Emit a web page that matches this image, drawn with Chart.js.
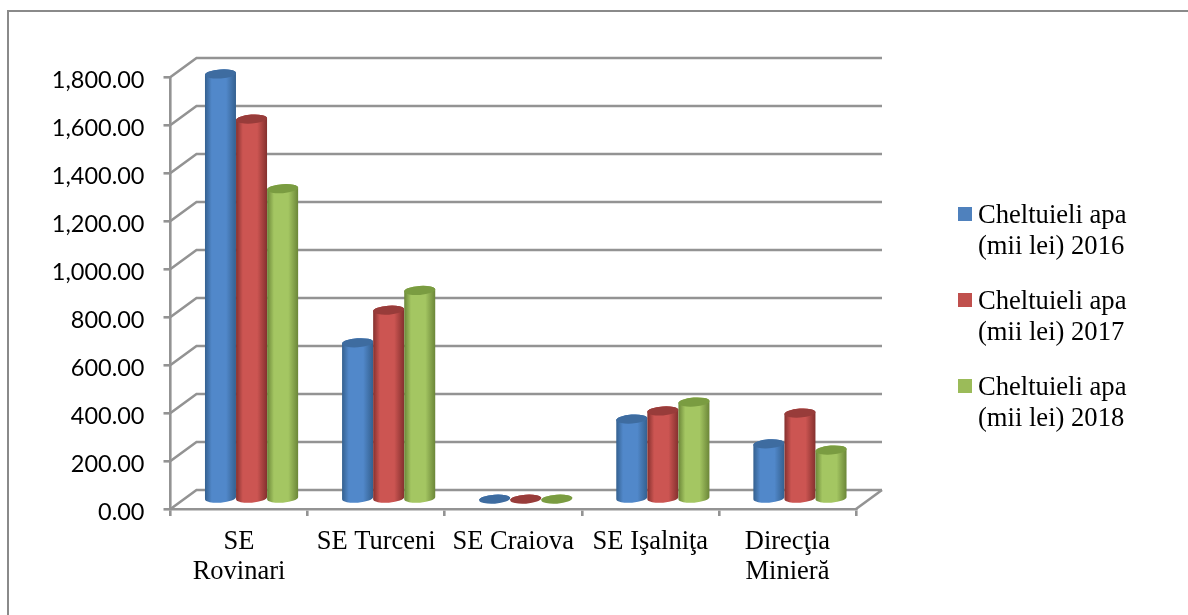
<!DOCTYPE html>
<html>
<head>
<meta charset="utf-8">
<title>Cheltuieli apa</title>
<script src="https://cdn.jsdelivr.net/npm/chart.js@4"></script>
<style>
  html, body { margin: 0; padding: 0; background: #fff; overflow: hidden; }
  canvas { display: block; }
</style>
</head>
<body>
<canvas id="myChart" width="1188" height="615"></canvas>
<script>
const categories = [["SE", "Rovinari"], "SE Turceni", "SE Craiova", "SE Işalniţa", ["Direcţia", "Minieră"]];
const yTicks = [0, 200, 400, 600, 800, 1000, 1200, 1400, 1600, 1800];

const legendFirstLine = "Cheltuieli apa";
const legendSecondLines = ["(mii lei) 2016", "(mii lei) 2017", "(mii lei) 2018"];

const values2016 = [1773, 653, 1.5, 335, 232];
const values2017 = [1585, 789, 1.5, 369, 360];
const values2018 = [1295, 871, 1.5, 406, 206];

const flatColors = ["#4f81bd", "#c0504d", "#9bbb59"];
const edgeColors = ["#34608f", "#84302e", "#6b8638"];
const midColors = ["#5188ca", "#cc5552", "#a4c662"];
const topColors = ["#3e6ca0", "#983c3a", "#7a9c41"];

const gridColor = "#939393";
const depthX = 26, depthY = -19;    // depth of the floor / side walls
const barDX = 12.5, barDY = -9.5;   // bars stand in the middle of the floor

// back wall lines, the slanted ones and the right edge of the floor
const wallsPlugin = {
  id: "walls",
  afterLayout(chart) {
    // the tick labels sit a little under their tick marks in the original
    const s = chart.scales.y, draw = s.drawLabels;
    s.drawLabels = function (a) {
      chart.ctx.save();
      chart.ctx.translate(0, 3.5);
      draw.call(this, a);
      chart.ctx.restore();
    };
  },
  beforeDatasetsDraw(chart) {
    const ctx = chart.ctx, y = chart.scales.y, area = chart.chartArea;
    ctx.save();
    ctx.strokeStyle = gridColor;
    ctx.lineWidth = 2.6;
    yTicks.forEach((t) => {
      const py = y.getPixelForValue(t);
      ctx.beginPath();
      ctx.moveTo(area.left, py);
      ctx.lineTo(area.left + depthX, py + depthY);
      ctx.lineTo(area.right + depthX, py + depthY);
      ctx.stroke();
    });
    const py0 = y.getPixelForValue(0);
    ctx.beginPath();
    ctx.moveTo(area.right, py0);
    ctx.lineTo(area.right + depthX, py0 + depthY);
    ctx.stroke();
    ctx.restore();
  }
};

// the cylinders, drawn from the bar elements that the library laid out
const cylinderPlugin = {
  id: "cylinders",
  beforeDatasetDraw() {
    return false;
  },
  afterDatasetsDraw(chart) {
    const ctx = chart.ctx;
    const tilt = -0.07;
    chart.data.datasets.forEach((ds, i) => {
      chart.getDatasetMeta(i).data.forEach((bar) => {
        const cx = bar.x + barDX;
        const rx = bar.width / 2;
        const ry = 4.5;
        const top = bar.y + barDY;
        const base = bar.base + barDY;

        const grad = ctx.createLinearGradient(cx - rx, 0, cx + rx, 0);
        grad.addColorStop(0, edgeColors[i]);
        grad.addColorStop(0.22, midColors[i]);
        grad.addColorStop(0.68, midColors[i]);
        grad.addColorStop(1, edgeColors[i]);

        ctx.beginPath();
        ctx.ellipse(cx, base, rx, ry, tilt, Math.PI, 0, true);
        ctx.ellipse(cx, top, rx, ry, tilt, 0, Math.PI, true);
        ctx.closePath();
        ctx.fillStyle = grad;
        ctx.fill();

        ctx.beginPath();
        ctx.ellipse(cx, top, rx, ry, tilt, 0, Math.PI * 2);
        ctx.fillStyle = topColors[i];
        ctx.fill();
      });
    });
  }
};

// outer frame and the two line legend
const framePlugin = {
  id: "frame",
  afterDraw(chart) {
    const ctx = chart.ctx;
    ctx.save();
    ctx.strokeStyle = "#8a8a8a";
    ctx.lineWidth = 2;
    ctx.beginPath();
    ctx.moveTo(8, 615);
    ctx.lineTo(8, 11);
    ctx.lineTo(1188, 11);
    ctx.stroke();

    ctx.font = "26.6px 'Liberation Serif'";
    ctx.textBaseline = "alphabetic";
    legendSecondLines.forEach((line, i) => {
      const y = 223 + i * 86;
      ctx.fillStyle = flatColors[i];
      ctx.fillRect(958, y - 16, 14, 14);
      ctx.fillStyle = "#000";
      ctx.fillText(legendFirstLine, 978, y);
      ctx.fillText(line, 978, y + 31);
    });
    ctx.restore();
  }
};

const ctx = document.getElementById("myChart").getContext("2d");
const myChart = new Chart(ctx, {
  type: "bar",
  data: {
    labels: categories,
    datasets: [
      { label: legendFirstLine + " " + legendSecondLines[0], data: values2016, backgroundColor: flatColors[0] },
      { label: legendFirstLine + " " + legendSecondLines[1], data: values2017, backgroundColor: flatColors[1] },
      { label: legendFirstLine + " " + legendSecondLines[2], data: values2018, backgroundColor: flatColors[2] }
    ]
  },
  options: {
    responsive: false,
    animation: false,
    layout: { padding: { top: 77, right: 332, left: 0, bottom: 0 } },
    datasets: { bar: { categoryPercentage: 0.68, barPercentage: 1 } },
    plugins: { legend: { display: false }, tooltip: { enabled: false } },
    scales: {
      x: {
        afterFit: (s) => { s.height = 106; },
        grid: { drawOnChartArea: false, color: gridColor, lineWidth: 2.6, tickLength: 7 },
        border: { color: gridColor, width: 2.6 },
        ticks: {
          maxRotation: 0,
          autoSkip: false,
          padding: 11,
          color: "#000",
          font: { family: "'Liberation Serif'", size: 26.5, lineHeight: 1.13 }
        }
      },
      y: {
        min: 0,
        max: 1800,
        afterFit: (s) => { s.width = 170.5; },
        grid: { drawOnChartArea: false, color: gridColor, lineWidth: 2.6, tickLength: 7 },
        border: { color: gridColor, width: 2.6 },
        ticks: {
          stepSize: 200,
          padding: 19,
          color: "#000",
          font: { family: "Lato", size: 23.5 },
          callback: (v) => v.toLocaleString("en-US", { minimumFractionDigits: 2, maximumFractionDigits: 2 })
        }
      }
    }
  },
  plugins: [wallsPlugin, cylinderPlugin, framePlugin]
});
</script>
</body>
</html>
